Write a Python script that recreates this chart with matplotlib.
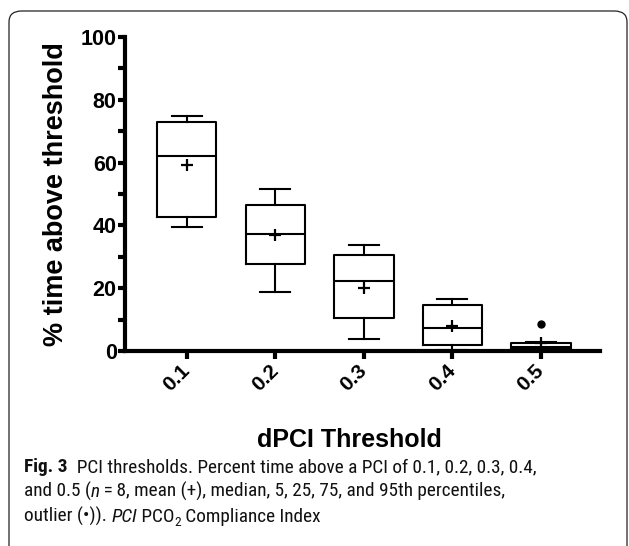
import os
import matplotlib
matplotlib.use('Agg')
import matplotlib.pyplot as plt
from matplotlib import font_manager
from matplotlib.patches import FancyBboxPatch
from matplotlib.ticker import MultipleLocator

# box plot summary values (% time above threshold)
THRESHOLDS = ['0.1', '0.2', '0.3', '0.4', '0.5']
WHIS_LO = [39.5, 18.8, 3.9, 0.3, 0.0]
Q1 = [42.8, 27.6, 10.5, 1.8, 0.5]
MEDIAN = [62.1, 37.3, 22.2, 7.3, 1.4]
Q3 = [72.8, 46.5, 30.5, 14.7, 2.5]
WHIS_HI = [74.7, 51.6, 33.8, 16.7, 3.0]
MEAN = [59.1, 36.8, 20.1, 8.1, 2.6]
OUTLIERS = [[], [], [], [], [8.6]]

W, H = 629, 546
fig = plt.figure(figsize=(W / 100, H / 100), dpi=100)

# rounded frame around the figure + caption
frame = FancyBboxPatch((9 / W, -20 / H), 618 / W, (H - 11 + 20) / H,
                       boxstyle='round,pad=0,rounding_size=0.02',
                       transform=fig.transFigure, fill=False,
                       edgecolor='#222222', linewidth=0.9)
fig.patches.append(frame)

ax = fig.add_axes([125 / W, (H - 351) / H, 475 / W, 314 / H])

stats = []
for i in range(len(THRESHOLDS)):
    stats.append({'whislo': WHIS_LO[i], 'q1': Q1[i], 'med': MEDIAN[i],
                  'q3': Q3[i], 'whishi': WHIS_HI[i], 'mean': MEAN[i],
                  'fliers': OUTLIERS[i], 'label': THRESHOLDS[i]})

lw = 1.5
ax.bxp(stats, positions=range(1, 6), widths=0.67, showmeans=True,
       boxprops=dict(color='black', linewidth=lw),
       medianprops=dict(color='black', linewidth=lw),
       whiskerprops=dict(color='black', linewidth=lw),
       capprops=dict(color='black', linewidth=lw),
       capwidths=0.34,
       meanprops=dict(marker='+', markeredgecolor='black', markersize=9,
                      markeredgewidth=1.6),
       flierprops=dict(marker='o', markerfacecolor='black',
                       markeredgecolor='black', markersize=5))

ax.set_xlim(0.304, 5.666)
ax.set_ylim(0, 100)
ax.spines['top'].set_visible(False)
ax.spines['right'].set_visible(False)
ax.spines['left'].set_linewidth(3)
ax.spines['bottom'].set_linewidth(3)

ax.yaxis.set_major_locator(MultipleLocator(20))
ax.yaxis.set_minor_locator(MultipleLocator(10))
ax.tick_params(axis='y', which='major', length=5, width=3, direction='out', pad=1)
ax.tick_params(axis='y', which='minor', length=5, width=3, direction='out')
ax.tick_params(axis='x', length=6, width=3, direction='out', pad=6)

for lab in ax.get_yticklabels():
    lab.set_fontfamily('Liberation Sans')
    lab.set_fontweight('bold')
    lab.set_fontsize(15.5)
ax.set_xticks(range(1, 6))
ax.set_xticklabels(THRESHOLDS, rotation=45, ha='right', va='center',
                   rotation_mode='anchor', fontfamily='Liberation Sans',
                   fontweight='bold', fontsize=15)

ax.set_ylabel('% time above threshold', fontfamily='Liberation Sans',
              fontweight='bold', fontsize=19.5)
ax.yaxis.set_label_coords(-0.117, 0.5)

fig.text(349 / W, (H - 440) / H, 'dPCI Threshold', ha='center', va='center',
         fontfamily='Liberation Sans', fontweight='bold', fontsize=18)

# caption font: a condensed sans if one is installed, else Lato
fnames = {os.path.basename(f.fname): f.fname for f in font_manager.fontManager.ttflist}
cap_fp = None
for reg, bold, ital in [('RobotoCondensed-Regular.ttf', 'RobotoCondensed-Bold.ttf', 'RobotoCondensed-Italic.ttf'),
                        ('NotoSans-Condensed.ttf', 'NotoSans-CondensedBold.ttf', 'NotoSans-CondensedItalic.ttf'),
                        ('LiberationSansNarrow-Regular.ttf', 'LiberationSansNarrow-Bold.ttf', 'LiberationSansNarrow-Italic.ttf'),
                        ('DejaVuSansCondensed.ttf', 'DejaVuSansCondensed-Bold.ttf', 'DejaVuSansCondensed-Oblique.ttf')]:
    if reg in fnames and bold in fnames and ital in fnames:
        cap_fp = {'regular': fnames[reg], 'bold': fnames[bold], 'italic': fnames[ital]}
        break

renderer = fig.canvas.get_renderer()


def cap_props(kind, size):
    if cap_fp is not None:
        return font_manager.FontProperties(fname=cap_fp[kind], size=size)
    fp = font_manager.FontProperties(family='Lato', size=size)
    if kind == 'bold':
        fp.set_weight('bold')
    if kind == 'italic':
        fp.set_style('italic')
    return fp


line1 = [('Fig. 3', 'bold', 1.0, 0),
         ('  PCI thresholds. Percent time above a PCI of 0.1, 0.2, 0.3, 0.4,', 'regular', 1.0, 0)]
line2 = [('and 0.5 (', 'regular', 1.0, 0), ('n', 'italic', 1.0, 0),
         ('\u2009=\u20098, mean (+), median, 5, 25, 75, and 95th percentiles,', 'regular', 1.0, 0)]
line3 = [('outlier (\u2022)). ', 'regular', 1.0, 0), ('PCI', 'italic', 1.0, 0),
         (' PCO', 'regular', 1.0, 0), ('2', 'regular', 0.7, -4),
         (' Compliance Index', 'regular', 1.0, 0)]
CAPTION = [(line1, 472), (line2, 497), (line3, 522)]


def draw_runs(x_px, y_px, runs, size):
    x = x_px / W
    items = []
    for txt, kind, scale, dy in runs:
        t = fig.text(x, (H - y_px + dy) / H, txt, ha='left', va='baseline',
                     fontproperties=cap_props(kind, size * scale), color='#111111')
        bb = t.get_window_extent(renderer=renderer)
        x = bb.x1 / W
        items.append(t)
    return items, x * W - x_px


CAP_X = 24
if cap_fp is not None:
    # fit the caption so the three lines together span what they do in the source
    total = 0
    for runs, y in CAPTION:
        probe, width = draw_runs(CAP_X, y, runs, 12)
        for t in probe:
            t.remove()
        total += width
    cap_size = 12 * 1290 / total
else:
    cap_size = 12.2

for runs, y in CAPTION:
    draw_runs(CAP_X, y, runs, cap_size)

fig.savefig('out.png', dpi=100)
